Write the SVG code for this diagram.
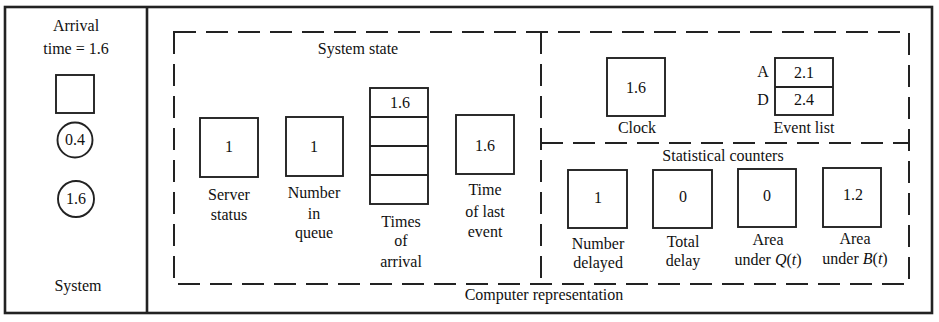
<svg xmlns="http://www.w3.org/2000/svg" width="939" height="322" viewBox="0 0 939 322">
<style>
text{font-family:"Liberation Serif","Times New Roman",serif;font-size:16px;fill:#111;text-anchor:middle}
.frame{fill:none;stroke:#222;stroke-width:2.6}
.dash{fill:none;stroke:#222;stroke-width:2;stroke-dasharray:22 10}
.box{fill:#fff;stroke:#222;stroke-width:1.9}
.it{font-style:italic}
</style>
<rect width="939" height="322" fill="#fff"/>
<g id="frames">
<rect class="frame" x="5" y="7" width="927" height="306"/>
<line class="frame" x1="147" y1="7" x2="147" y2="313"/>
</g>
<g id="containers">
<path class="dash" d="M174,32 H909 V284 H174 Z"/>
<path class="dash" d="M541,32 V284"/>
<path class="dash" d="M541,143 H909"/>
</g>
<g id="connectors"></g>
<g id="system">
<text x="76" y="31">Arrival</text>
<text x="76" y="54">time = 1.6</text>
<rect class="box" x="56" y="75" width="38" height="38"/>
<circle class="box" cx="75" cy="140" r="17.5"/>
<text x="75" y="145">0.4</text>
<circle class="box" cx="76" cy="199" r="18"/>
<text x="76" y="204">1.6</text>
<text x="78" y="291">System</text>
</g>
<text x="358" y="54">System state</text>
<g id="server-status">
<rect class="box" x="200" y="118" width="58" height="59"/>
<text x="229" y="152">1</text>
<text x="229" y="200">Server</text>
<text x="229" y="220">status</text>
</g>
<g id="number-in-queue">
<rect class="box" x="286" y="117" width="57" height="59"/>
<text x="314" y="152">1</text>
<text x="314" y="198">Number</text>
<text x="314" y="219">in</text>
<text x="314" y="238">queue</text>
</g>
<g id="times-of-arrival">
<rect class="box" x="370" y="88" width="58" height="116"/>
<line class="box" x1="370" y1="117" x2="428" y2="117"/>
<line class="box" x1="370" y1="146" x2="428" y2="146"/>
<line class="box" x1="370" y1="175" x2="428" y2="175"/>
<text x="400" y="108">1.6</text>
<text x="401" y="227">Times</text>
<text x="401" y="246">of</text>
<text x="401" y="267">arrival</text>
</g>
<g id="time-of-last-event">
<rect class="box" x="456" y="115" width="58" height="59"/>
<text x="485" y="151">1.6</text>
<text x="485" y="195">Time</text>
<text x="485" y="217">of last</text>
<text x="485" y="237">event</text>
</g>
<g id="clock">
<rect class="box" x="607" y="58" width="58" height="58"/>
<text x="636" y="93">1.6</text>
<text x="637" y="133">Clock</text>
</g>
<g id="event-list">
<rect class="box" x="775" y="58" width="58" height="57"/>
<line class="box" x1="775" y1="87" x2="833" y2="87"/>
<text x="763" y="77">A</text>
<text x="804" y="78">2.1</text>
<text x="763" y="105">D</text>
<text x="804" y="105">2.4</text>
<text x="804" y="133">Event list</text>
</g>
<text x="723" y="161">Statistical counters</text>
<g id="number-delayed">
<rect class="box" x="568" y="170" width="59" height="58"/>
<text x="598" y="203">1</text>
<text x="598" y="249">Number</text>
<text x="598" y="268">delayed</text>
</g>
<g id="total-delay">
<rect class="box" x="653" y="170" width="59" height="58"/>
<text x="683" y="202">0</text>
<text x="683" y="247">Total</text>
<text x="683" y="266">delay</text>
</g>
<g id="area-under-q">
<rect class="box" x="738" y="169" width="58" height="58"/>
<text x="767" y="201">0</text>
<text x="768" y="245">Area</text>
<text x="768" y="265">under <tspan class="it">Q</tspan>(<tspan class="it">t</tspan>)</text>
</g>
<g id="area-under-b">
<rect class="box" x="823" y="168" width="58" height="59"/>
<text x="853" y="200">1.2</text>
<text x="855" y="244">Area</text>
<text x="855" y="264">under <tspan class="it">B</tspan>(<tspan class="it">t</tspan>)</text>
</g>
<text x="544" y="300">Computer representation</text>
</svg>
